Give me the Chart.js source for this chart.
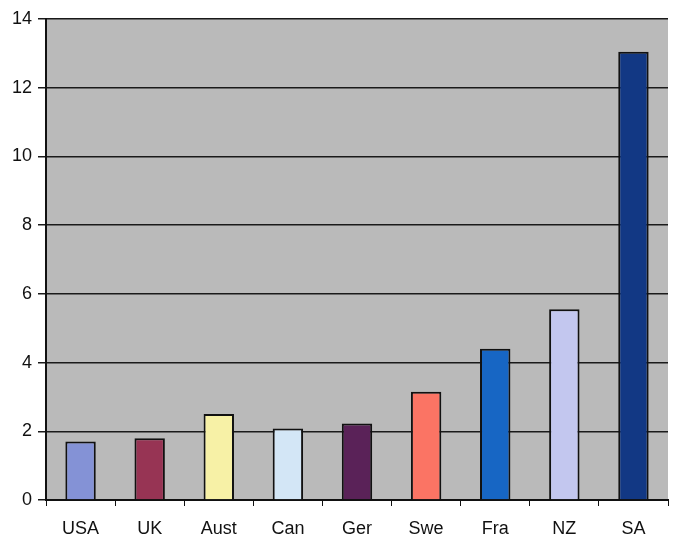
<!DOCTYPE html>
<html>
<head>
<meta charset="utf-8">
<script src="https://cdn.jsdelivr.net/npm/chart.js@4"></script>
<style>
  html, body { margin: 0; padding: 0; background: #fff; }
  #wrap { width: 674px; height: 538px; }
</style>
</head>
<body>
<div id="wrap"><canvas id="c" width="674" height="538"></canvas></div>
<script>
'use strict'

const countries = ['USA', 'UK', 'Aust', 'Can', 'Ger', 'Swe', 'Fra', 'NZ', 'SA']
const values = [1.7, 1.8, 2.5, 2.08, 2.23, 3.15, 4.4, 5.55, 13.05]
const barColors = ['#8492d6', '#973454', '#f7f1a6', '#d3e6f6', '#5a2258', '#fb7464', '#1766c4', '#c3c7ef', '#123884']
const yTicks = [0, 2, 4, 6, 8, 10, 12, 14]

const plotBg = {
    id: 'plotBg',
    beforeDraw(chart) {
        const a = chart.chartArea
        const ctx = chart.ctx
        ctx.save()
        ctx.fillStyle = '#bababa'
        ctx.fillRect(a.left, a.top, a.right - a.left, a.bottom - a.top)
        ctx.restore()
    }
}

document.addEventListener('DOMContentLoaded', () => {
    const ctx = document.getElementById('c').getContext('2d')
    new Chart(ctx, {
        type: 'bar',
        data: {
            labels: countries,
            datasets: [{
                data: values,
                backgroundColor: barColors,
                borderColor: '#111',
                borderWidth: 2,
                barPercentage: 0.44,
                categoryPercentage: 1
            }]
        },
        options: {
            responsive: false,
            animation: false,
            layout: { padding: { top: 19, right: 6, left: 0, bottom: 0 } },
            plugins: { legend: { display: false }, tooltip: { enabled: false } },
            scales: {
                x: {
                    grid: { display: true, drawOnChartArea: false, color: '#111', tickLength: 6, offset: true },
                    border: { color: '#111', width: 2 },
                    ticks: { color: '#111', font: { family: 'Liberation Sans', size: 18 }, padding: 12 },
                    afterFit(scale) { scale.height = 38 }
                },
                y: {
                    min: 0,
                    max: 14,
                    afterBuildTicks(scale) { scale.ticks = yTicks.map(v => ({ value: v })) },
                    grid: { color: '#1a1a1a', lineWidth: 1.5, tickLength: 8 },
                    border: { color: '#111', width: 2 },
                    ticks: { color: '#111', font: { family: 'Liberation Sans', size: 18 }, padding: 6 },
                    afterFit(scale) { scale.width = 46 }
                }
            }
        },
        plugins: [plotBg]
    })
})
</script>
</body>
</html>
